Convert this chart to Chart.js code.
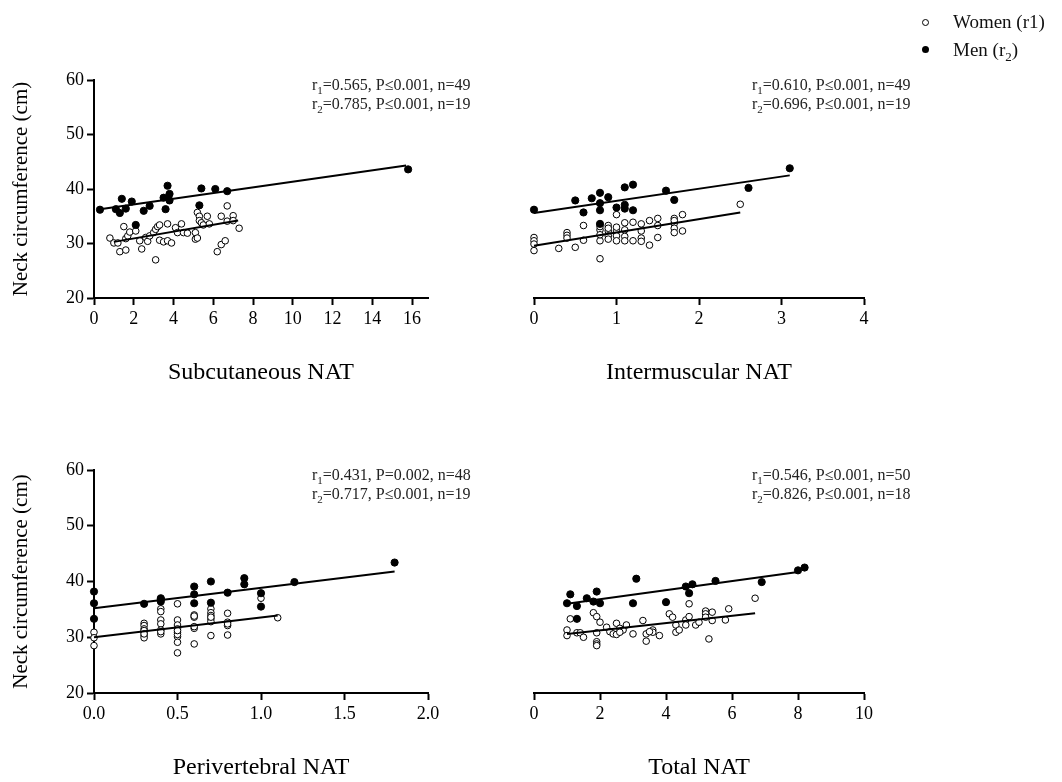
<!DOCTYPE html>
<html>
<head>
<meta charset="utf-8">
<script src="https://cdn.jsdelivr.net/npm/chart.js@4.4.1/dist/chart.umd.min.js"></script>
<style>
  html, body { margin: 0; padding: 0; background: #fff; }
  body { width: 1062px; height: 782px; position: relative; overflow: hidden; font-family: "Liberation Serif", "Times New Roman", serif; }
  canvas { position: absolute; }
  .leg { position: absolute; left: 953px; font-size: 19px; line-height: 22px; color: #111; z-index: 2; }
  .leg sub { font-size: 13px; line-height: 0; }
  .dot { position: absolute; left: 922px; width: 7px; height: 7px; border-radius: 50%; background: #000; box-sizing: border-box; z-index: 2; }
  .dot.open { background: #fff; border: 1px solid #000; }
</style>
</head>
<body>
<canvas id="cSub" width="520" height="350" style="left:0;top:40px"></canvas>
<canvas id="cInt" width="520" height="350" style="left:440px;top:40px"></canvas>
<canvas id="cPer" width="520" height="352" style="left:0;top:430px"></canvas>
<canvas id="cTot" width="520" height="352" style="left:440px;top:430px"></canvas>

<span class="dot open" style="top:19px"></span>
<div class="leg" style="top:11px">Women (r1)</div>
<span class="dot" style="top:46px"></span>
<div class="leg" style="top:39px">Men (r<sub>2</sub>)</div>

<script>
// ---- data: [NAT, neck circumference] ----

// Subcutaneous NAT
const subWomen = [[0.8,31.0],[1.0,30.1],[1.2,30.1],[1.3,28.5],[1.5,33.1],[1.6,28.8],[1.6,30.9],[1.7,31.4],[1.8,32.1],[2.1,32.3],
  [2.3,30.5],[2.4,29.0],[2.6,31.1],[2.7,30.4],[2.8,31.4],[3.0,32.0],[3.1,32.6],[3.1,27.0],[3.2,33.1],[3.3,33.4],
  [3.3,30.6],[3.5,30.3],[3.7,30.5],[3.7,33.6],[3.9,30.1],[4.1,32.9],[4.2,32.0],[4.4,33.6],[4.5,32.0],[4.7,31.9],
  [5.1,32.0],[5.1,30.8],[5.2,31.0],[5.2,35.7],[5.3,35.0],[5.3,34.2],[5.4,33.8],[5.5,33.4],[5.7,35.0],[5.8,33.6],
  [6.2,28.5],[6.4,29.8],[6.4,35.0],[6.6,30.5],[6.7,36.9],[6.7,34.1],[7.0,35.1],[7.0,34.2],[7.3,32.8]];
const subMen = [[0.3,36.2],[1.1,36.3],[1.3,35.6],[1.4,38.2],[1.6,36.4],[1.9,37.7],[2.1,33.4],[2.5,36.0],[2.8,36.9],[3.5,38.4],
  [3.7,40.6],[3.8,39.1],[3.6,36.3],[3.8,37.9],[5.3,37.0],[5.4,40.1],[6.1,40.0],[6.7,39.6],[15.8,43.6]];
const subWomenFit = [[1.0,30.3],[7.25,34.2]];
const subMenFit = [[0.3,36.3],[15.7,44.3]];
const subTicks = [0,2,4,6,8,10,12,14,16];
const subStats = ['0.565, P\u22640.001, n=49', '0.785, P\u22640.001, n=19'];

// Intermuscular NAT
const intWomen = [[0,31.1],[0,30.5],[0,29.9],[0,28.7],[0.3,29.1],[0.4,32.0],[0.4,31.5],[0.4,31.0],[0.5,29.3],[0.6,30.6],
  [0.6,33.3],[0.8,32.5],[0.8,30.5],[0.8,27.2],[0.8,31.6],[0.8,33.1],[0.9,33.3],[0.9,32.3],[0.9,31.4],[0.9,30.8],
  [0.9,32.8],[1.0,35.3],[1.0,32.3],[1.0,31.4],[1.0,30.5],[1.0,33.0],[1.1,32.5],[1.1,31.3],[1.1,30.5],[1.1,33.8],
  [1.2,33.9],[1.2,30.5],[1.3,33.6],[1.3,32.3],[1.3,31.0],[1.3,30.4],[1.4,34.2],[1.4,29.7],[1.5,34.6],[1.5,33.3],
  [1.5,31.1],[1.7,34.6],[1.7,33.7],[1.7,32.8],[1.7,32.0],[1.7,34.2],[1.8,35.3],[1.8,32.3],[2.5,37.2]];
const intMen = [[0,36.2],[0.5,37.9],[0.6,35.7],[0.7,38.3],[0.8,39.3],[0.8,37.4],[0.8,36.1],[0.8,33.6],[0.9,38.5],[1.0,36.6],
  [1.1,40.3],[1.1,37.1],[1.1,36.4],[1.2,40.8],[1.2,36.1],[1.6,39.7],[1.7,38.0],[2.6,40.2],[3.1,43.8]];
const intWomenFit = [[0,29.6],[2.5,35.7]];
const intMenFit = [[0,35.6],[3.1,42.5]];
const intTicks = [0,1,2,3,4];
const intStats = ['0.610, P\u22640.001, n=49', '0.696, P\u22640.001, n=19'];

// Perivertebral NAT
const perWomen = [[0,30.9],[0,29.9],[0,28.5],[0.3,32.5],[0.3,32.1],[0.3,31.5],[0.3,30.9],[0.3,30.3],[0.3,29.9],[0.3,31.2],
  [0.4,35.1],[0.4,34.6],[0.4,33.1],[0.4,32.4],[0.4,31.3],[0.4,30.6],[0.4,31.0],[0.5,36.0],[0.5,33.1],[0.5,32.2],
  [0.5,31.5],[0.5,30.9],[0.5,30.1],[0.5,29.1],[0.5,27.2],[0.5,30.5],[0.5,31.2],[0.6,34.0],[0.6,33.6],[0.6,31.6],
  [0.6,28.8],[0.6,33.8],[0.7,35.1],[0.7,34.4],[0.7,33.9],[0.7,33.3],[0.7,32.8],[0.7,30.3],[0.7,33.6],[0.8,34.3],
  [0.8,32.7],[0.8,32.1],[0.8,30.4],[0.8,32.4],[1.0,37.0],[1.1,33.5],[0.3,30.6],[0.6,31.9]];
const perMen = [[0,38.2],[0,36.1],[0,33.3],[0.3,36.0],[0.4,37.0],[0.4,36.4],[0.4,36.8],[0.6,39.1],[0.6,37.7],[0.6,36.1],
  [0.7,40.0],[0.7,36.2],[0.8,38.0],[0.9,40.6],[0.9,39.5],[1.0,37.9],[1.0,35.5],[1.2,39.9],[1.8,43.4]];
const perWomenFit = [[0,30.0],[1.1,33.9]];
const perMenFit = [[0,35.2],[1.8,41.8]];
const perTicks = [0,0.5,1,1.5,2];
const perTickLabels = ['0.0','0.5','1.0','1.5','2.0'];
const perStats = ['0.431, P=0.002, n=48', '0.717, P\u22640.001, n=19'];

// Total NAT
const totWomen = [[1.0,31.3],[1.0,30.3],[1.1,33.3],[1.3,30.8],[1.4,30.8],[1.5,30.0],[1.8,34.4],[1.9,33.7],[1.9,30.8],[1.9,29.2],
  [1.9,28.8],[1.9,28.5],[2.0,32.7],[2.2,31.8],[2.3,31.0],[2.4,30.6],[2.5,32.5],[2.5,30.5],[2.6,31.6],[2.7,31.3],
  [2.8,32.2],[3.0,30.6],[3.3,33.0],[3.4,30.6],[3.4,29.3],[3.6,31.3],[3.6,30.9],[3.8,30.3],[4.1,34.2],[4.2,33.6],
  [4.3,32.2],[4.3,30.9],[4.4,31.3],[4.6,33.1],[4.6,32.2],[4.7,33.7],[4.7,36.0],[4.9,32.2],[5.0,32.7],[5.2,34.7],
  [5.2,34.2],[5.2,33.6],[5.3,29.7],[5.4,34.5],[5.4,33.0],[5.8,33.1],[5.9,35.1],[6.7,37.0],[2.6,30.9],[3.5,31.0]];
const totMen = [[1.0,36.1],[1.1,37.7],[1.3,35.6],[1.3,33.3],[1.6,37.0],[1.8,36.4],[1.9,38.2],[2.0,36.1],[3.0,36.1],[3.1,40.5],
  [4.0,36.3],[4.6,39.1],[4.8,39.5],[4.7,37.9],[5.5,40.1],[6.9,39.9],[8.0,42.0],[8.2,42.5]];
const totWomenFit = [[1.0,30.6],[6.7,34.3]];
const totMenFit = [[1.0,36.0],[8.0,41.7]];
const totTicks = [0,2,4,6,8,10];
const totStats = ['0.546, P\u22640.001, n=50', '0.826, P\u22640.001, n=18'];

const yTicks = [20,30,40,50,60];
const yTitle = 'Neck circumference (cm)';

// ---- drawing ----
const FONT = '"Liberation Serif", "Times New Roman", serif';
const toXY = pts => pts.map(([x, y]) => ({x, y}));

// r1= / r2= statistics printed in each panel's upper right
const statsPlugin = {
    id: 'stats',
    afterDraw(chart, args, opts) {
        if (!opts.lines) return;
        const ctx = chart.ctx;
        const area = chart.chartArea;
        ctx.save();
        ctx.fillStyle = '#222';
        ctx.textBaseline = 'alphabetic';
        opts.lines.forEach((txt, i) => {
            let x = area.left + opts.dx;
            const y = area.top + opts.dy + i * opts.gap;
            ctx.font = '16px ' + FONT;
            ctx.fillText('r', x, y);
            x += ctx.measureText('r').width;
            ctx.font = '11px ' + FONT;
            ctx.fillText(String(i + 1), x, y + 4);
            x += ctx.measureText(String(i + 1)).width;
            ctx.font = '16px ' + FONT;
            ctx.fillText('=' + txt, x, y);
        });
        ctx.restore();
    }
};

function axisStyle() {
    return {
        grid: { display: true, drawOnChartArea: false, drawTicks: true, tickLength: 7, tickWidth: 2, color: '#000' },
        border: { display: true, color: '#000', width: 2 },
    };
}

function makePanel(id, cfg) {
    const xAxisH = cfg.bottomH;
    const scales = {
        x: {
            type: 'linear', min: 0, max: cfg.xMax,
            afterBuildTicks: s => { s.ticks = cfg.xTicks.map(v => ({ value: v })); },
            afterFit: s => { s.height = xAxisH; },
            ...axisStyle(),
            ticks: {
                color: '#000', font: { family: FONT, size: 18 }, padding: 3, maxRotation: 0, autoSkip: false,
                callback: (v, i) => cfg.xLabels ? cfg.xLabels[i] : String(v)
            },
            title: { display: true, text: cfg.xTitle, color: '#000', font: { family: FONT, size: 24 }, padding: { top: 0, bottom: cfg.titlePad } }
        },
        y: { type: 'linear', min: 20, max: 60, display: false }
    };
    if (cfg.showY) {
        scales.y = {
            type: 'linear', min: 20, max: 60,
            afterBuildTicks: s => { s.ticks = yTicks.map(v => ({ value: v })); },
            afterFit: s => { s.width = 94; },
            ...axisStyle(),
            ticks: { color: '#000', font: { family: FONT, size: 18 }, padding: 3 },
            title: { display: true, text: yTitle, color: '#000', font: { family: FONT, size: 21 }, padding: { top: 9, bottom: 0 } }
        };
    }

    const line = pts => ({
        data: toXY(pts), showLine: true, borderColor: '#000', borderWidth: 2,
        pointRadius: 0, fill: false, clip: false
    });

    new Chart(document.getElementById(id), {
        type: 'scatter',
        data: {
            datasets: [
                line(cfg.menFit),
                line(cfg.womenFit),
                { label: 'Men', data: toXY(cfg.men), pointRadius: 3.6, pointBackgroundColor: '#000', pointBorderColor: '#000', pointBorderWidth: 1, clip: false },
                { label: 'Women', data: toXY(cfg.women), pointRadius: 3.3, pointBackgroundColor: '#fff', pointBorderColor: '#000', pointBorderWidth: 1, clip: false }
            ]
        },
        options: {
            responsive: false,
            animation: false,
            devicePixelRatio: 1,
            layout: { padding: { left: cfg.padLeft, right: cfg.padRight, top: 40, bottom: 0 } },
            plugins: {
                legend: { display: false },
                tooltip: { enabled: false },
                stats: { lines: cfg.stats, dx: 218, dy: 10, gap: 19 }
            },
            scales
        },
        plugins: [statsPlugin]
    });
}

makePanel('cSub', { women: subWomen, men: subMen, womenFit: subWomenFit, menFit: subMenFit, xMax: 16.8, xTicks: subTicks,
    xTitle: 'Subcutaneous NAT', stats: subStats, showY: true, padLeft: 0, padRight: 92, bottomH: 92, titlePad: 3 });
makePanel('cInt', { women: intWomen, men: intMen, womenFit: intWomenFit, menFit: intMenFit, xMax: 4, xTicks: intTicks,
    xTitle: 'Intermuscular NAT', stats: intStats, showY: false, padLeft: 94, padRight: 96, bottomH: 92, titlePad: 3 });
makePanel('cPer', { women: perWomen, men: perMen, womenFit: perWomenFit, menFit: perMenFit, xMax: 2, xTicks: perTicks, xLabels: perTickLabels,
    xTitle: 'Perivertebral NAT', stats: perStats, showY: true, padLeft: 0, padRight: 92, bottomH: 89, titlePad: 0 });
makePanel('cTot', { women: totWomen, men: totMen, womenFit: totWomenFit, menFit: totMenFit, xMax: 10, xTicks: totTicks,
    xTitle: 'Total NAT', stats: totStats, showY: false, padLeft: 94, padRight: 96, bottomH: 89, titlePad: 0 });
</script>
</body>
</html>
